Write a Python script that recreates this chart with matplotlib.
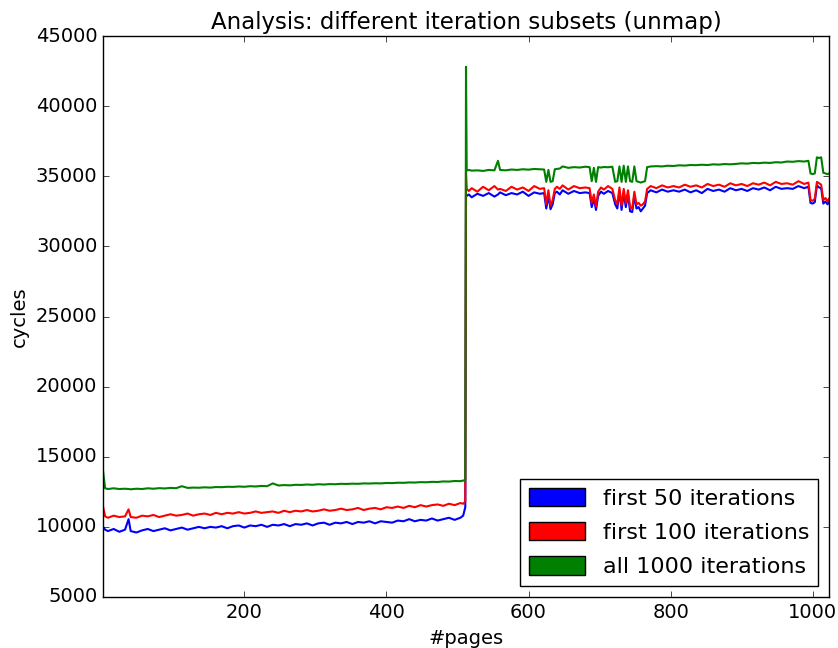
import numpy as np
import matplotlib
matplotlib.use('Agg')
import matplotlib.pyplot as plt
import matplotlib.patches as mpatches

plt.style.use('classic')

# pages 1..511 (before the jump)
pages_left = [1, 4, 8, 16, 24, 32, 37, 40, 48, 56,
              64, 72, 80, 88, 96, 104, 112, 120, 128, 136,
              144, 152, 160, 168, 176, 184, 192, 200, 208, 216,
              224, 232, 240, 248, 256, 264, 272, 280, 288, 296,
              304, 312, 320, 328, 336, 344, 352, 360, 368, 376,
              384, 392, 400, 408, 416, 424, 432, 440, 448, 456,
              464, 472, 480, 488, 496, 504, 508, 511]
blue_left = [10000, 9800, 9700, 9850, 9650, 9800, 10550, 9700, 9600, 9750,
             9850, 9700, 9800, 9900, 9750, 9850, 9950, 9800, 9900, 10000,
             9900, 10000, 9950, 10050, 9900, 10050, 10100, 9950, 10100, 10050,
             10150, 10000, 10150, 10100, 10200, 10050, 10200, 10150, 10250, 10100,
             10250, 10300, 10150, 10300, 10250, 10350, 10200, 10350, 10300, 10400,
             10250, 10400, 10350, 10300, 10450, 10400, 10550, 10400, 10500, 10450,
             10600, 10450, 10550, 10650, 10500, 10650, 10800, 11400]
red_left = [11450, 10750, 10650, 10800, 10700, 10750, 11250, 10700, 10650, 10800,
            10750, 10850, 10700, 10800, 10900, 10800, 10850, 10950, 10800, 10900,
            10950, 10850, 11000, 10900, 11000, 10950, 11050, 10950, 11000, 11100,
            11000, 11050, 11100, 11000, 11150, 11050, 11150, 11100, 11200, 11100,
            11150, 11250, 11150, 11200, 11300, 11200, 11250, 11350, 11200, 11300,
            11350, 11250, 11400, 11350, 11450, 11350, 11500, 11400, 11550, 11450,
            11550, 11600, 11500, 11650, 11550, 11700, 11650, 11800]
green_left = [14000, 12750, 12700, 12750, 12700, 12720, 12700, 12680, 12720, 12700,
              12750, 12720, 12760, 12740, 12780, 12760, 12900, 12780, 12800, 12790,
              12820, 12800, 12840, 12830, 12860, 12850, 12880, 12860, 12900, 12880,
              12920, 12900, 13100, 12950, 12980, 12960, 13000, 12990, 13020, 13000,
              13040, 13020, 13050, 13040, 13070, 13060, 13080, 13070, 13100, 13090,
              13110, 13100, 13130, 13120, 13150, 13140, 13170, 13160, 13190, 13180,
              13210, 13200, 13240, 13230, 13270, 13260, 13300, 13350]

# pages 512..1023 (after the jump)
pages_right = [512, 513, 516, 520, 528, 536, 544, 552, 557, 560,
               568, 576, 584, 592, 600, 608, 616, 622, 625, 628,
               631, 634, 637, 640, 644, 648, 656, 664, 672, 680,
               686, 689, 692, 695, 698, 702, 706, 712, 718, 722,
               725, 728, 731, 734, 737, 740, 743, 746, 749, 752,
               755, 758, 761, 764, 767, 772, 780, 788, 796, 804,
               812, 820, 828, 836, 844, 852, 860, 868, 876, 884,
               892, 900, 908, 916, 924, 932, 940, 948, 956, 964,
               972, 980, 988, 994, 997, 1000, 1003, 1006, 1009, 1012,
               1015, 1018, 1021, 1023]
blue_right = [33700, 33600, 33700, 33500, 33750, 33600, 33800, 33550, 33700, 33850,
              33650, 33800, 33700, 33900, 33600, 33850, 33750, 33800, 32700, 33600,
              32650, 33000, 33800, 33900, 33700, 34000, 33750, 33950, 33800, 33850,
              33800, 32800, 33400, 32600, 33600, 33900, 33750, 33950, 33800, 33000,
              32700, 33900, 32600, 33800, 32800, 33700, 32500, 32450, 33600, 32700,
              32800, 32500, 32700, 32900, 33800, 34000, 33850, 34050, 33900, 34000,
              33900, 34050, 33850, 34000, 33800, 34100, 33950, 34050, 33900, 34150,
              34000, 34100, 33950, 34150, 34050, 34200, 34000, 34250, 34100, 34150,
              34100, 34300, 34150, 34250, 33100, 33050, 33150, 34350, 34200, 34150,
              33050, 33200, 33000, 33150]
red_right = [35300, 34100, 33950, 34150, 33900, 34250, 34000, 34300, 34050, 34100,
             33950, 34250, 34050, 34200, 33950, 34300, 34100, 34150, 33000, 34000,
             32900, 33300, 34100, 34250, 34100, 34350, 34050, 34300, 34150, 34200,
             34150, 33100, 33700, 32850, 33900, 34200, 34050, 34300, 34100, 33300,
             33000, 34200, 32900, 34100, 33100, 34000, 32800, 32700, 33900, 33000,
             33100, 32900, 33000, 33200, 34100, 34300, 34150, 34350, 34200, 34300,
             34200, 34400, 34250, 34350, 34200, 34450, 34300, 34400, 34250, 34500,
             34350, 34450, 34300, 34500, 34400, 34550, 34350, 34600, 34450, 34500,
             34400, 34650, 34450, 34550, 33300, 33250, 33400, 34600, 34500, 34400,
             33300, 33450, 33200, 33400]
green_right = [42800, 35400, 35450, 35400, 35420, 35380, 35450, 35420, 36100, 35450,
               35420, 35480, 35450, 35500, 35470, 35520, 35500, 35480, 34600, 35450,
               34600, 34650, 35500, 35520, 35550, 35700, 35600, 35650, 35620, 35680,
               35650, 34650, 35600, 34600, 35650, 35620, 35660, 35640, 35680, 34600,
               34650, 35700, 34600, 35750, 34600, 35700, 34650, 34600, 35700, 34650,
               34600, 34550, 34600, 34650, 35650, 35700, 35720, 35700, 35750, 35730,
               35780, 35760, 35800, 35790, 35820, 35800, 35850, 35830, 35870, 35850,
               35880, 35920, 35900, 35950, 35930, 35970, 35950, 36000, 35980, 36050,
               36030, 36080, 36050, 36100, 35200, 35150, 35200, 36350, 36300, 36350,
               35250, 35200, 35150, 35200]

labels = ['first 50 iterations', 'first 100 iterations', 'all 1000 iterations']
colors = ['b', 'r', 'g']

pages = pages_left + pages_right
series = [blue_left + blue_right, red_left + red_right, green_left + green_right]

fig = plt.figure(figsize=(8.38, 6.48), dpi=100, facecolor='white')
ax = fig.add_axes([103 / 838, 51 / 648, 726 / 838, 561 / 648])

for vals, c in zip(series, colors):
    ax.plot(pages, vals, color=c, linewidth=1.5)

ax.set_xlim(1, 1023)
ax.set_ylim(5000, 45000)
ax.set_xticks([200, 400, 600, 800, 1000])
ax.set_yticks(np.arange(5000, 45001, 5000))
ax.tick_params(labelsize=14)

ax.set_title('Analysis: different iteration subsets (unmap)', fontsize=16.5)
ax.set_xlabel('#pages', fontsize=14)
ax.set_ylabel('cycles', fontsize=14)

handles = [mpatches.Patch(facecolor=c, edgecolor='k') for c in colors]
ax.legend(handles, labels, loc='lower right', fontsize=16,
          handlelength=2.5, handleheight=0.9, labelspacing=0.6)

fig.savefig('out.png', dpi=100, facecolor='white')
